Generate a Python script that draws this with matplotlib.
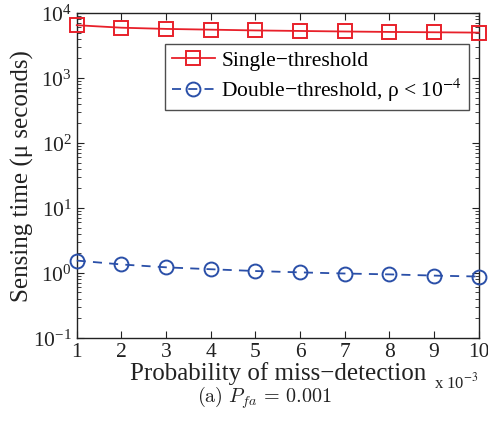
import matplotlib
matplotlib.use("Agg")
import matplotlib.pyplot as plt
from matplotlib.ticker import LogLocator, NullFormatter, LogFormatterMathtext

plt.rcParams['font.family'] = ['Liberation Serif', 'DejaVu Serif']
plt.rcParams['mathtext.fontset'] = 'stix'

pmd = [1, 2, 3, 4, 5, 6, 7, 8, 9, 10]
single = [6500, 5950, 5700, 5550, 5400, 5300, 5200, 5120, 5060, 5000]
double = [1.55, 1.35, 1.22, 1.14, 1.07, 1.02, 0.98, 0.95, 0.91, 0.88]
xticks = [1, 2, 3, 4, 5, 6, 7, 8, 9, 10]

fig = plt.figure(figsize=(4.89, 4.39), dpi=100)
ax = fig.add_axes([0.157, 0.228, 0.822, 0.740])

red = '#e8202a'
blue = '#2a4fa8'
ax.plot(pmd, single, '-', color=red, lw=1.3, marker='s', ms=9.5, mfc='none',
        mec=red, mew=1.4, clip_on=False, label='Single\u2212threshold', zorder=3)
ax.plot(pmd, double, '--', color=blue, lw=1.3, marker='o', ms=10, mfc='none',
        mec=blue, mew=1.4, clip_on=False, dashes=(5, 4),
        label='Double\u2212threshold, \u03c1 < 10$^{\u22124}$', zorder=3)

ax.set_yscale('log')
ax.set_ylim(0.1, 1e4)
ax.set_xlim(1, 10)
ax.set_xticks(xticks)
ax.set_xticklabels([str(t) for t in xticks])
ax.yaxis.set_major_locator(LogLocator(base=10, numticks=10))
ax.yaxis.set_minor_locator(LogLocator(base=10, subs=range(2, 10), numticks=20))
ax.yaxis.set_minor_formatter(NullFormatter())
ax.yaxis.set_major_formatter(LogFormatterMathtext())

ax.tick_params(which='both', direction='in', top=True, right=True, labelsize=15.5,
               colors='#222222')
ax.tick_params(axis='x', pad=3)
ax.tick_params(which='major', length=5, width=0.8)
ax.tick_params(which='minor', length=3, width=0.6)
for s in ax.spines.values():
    s.set_linewidth(1.0)
    s.set_color('#222222')

ax.set_xlabel('Probability of miss\u2212detection', fontsize=18, labelpad=0, color='#222222')
ax.set_ylabel('Sensing time (\u03bc seconds)', fontsize=18, labelpad=-1, color='#222222')
ax.text(1.0, -0.135, 'x 10$^{\u22123}$', transform=ax.transAxes, fontsize=12,
        ha='right', va='center', color='#222222')

leg = ax.legend(loc='upper right', bbox_to_anchor=(0.975, 0.905), fontsize=15.5,
                frameon=True, fancybox=False, edgecolor='#222222',
                handlelength=2.0, borderpad=0.3, labelspacing=0.25,
                handletextpad=0.3, borderaxespad=0)
leg.get_frame().set_linewidth(1.0)

t = fig.text(0.54, 0.095, r'$\mathrm{(a)}\ P_{fa}\,=\,0.001$', fontsize=14.5,
             ha='center', va='center', color='#222222')
t.set_math_fontfamily('cm')

fig.savefig('out.png', dpi=100)
